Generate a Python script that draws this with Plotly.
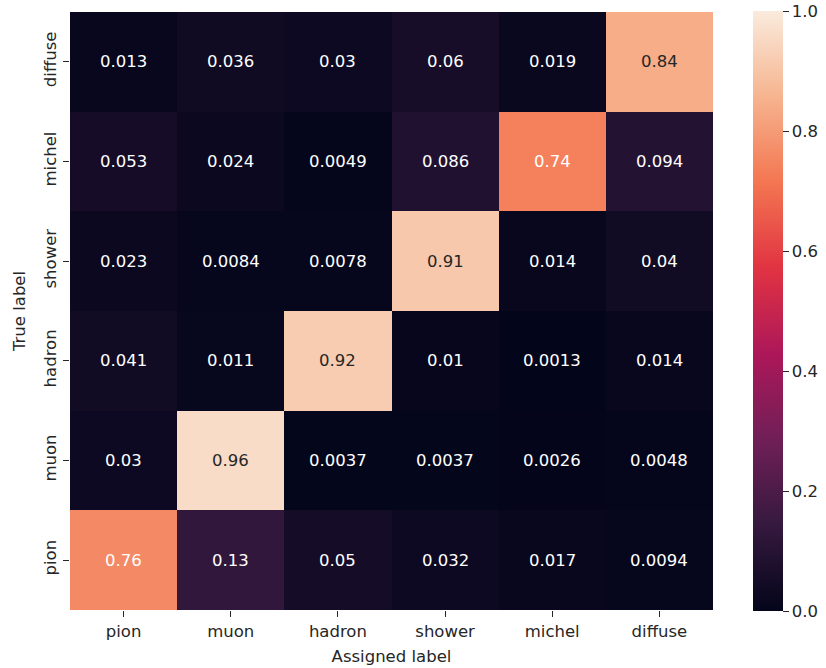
import plotly.graph_objects as go

# Confusion matrix: rows = true label, columns = assigned label
assigned_labels = ["pion", "muon", "hadron", "shower", "michel", "diffuse"]
true_labels = ["pion", "muon", "hadron", "shower", "michel", "diffuse"]

row_pion = [0.76, 0.13, 0.05, 0.032, 0.017, 0.0094]
row_muon = [0.03, 0.96, 0.0037, 0.0037, 0.0026, 0.0048]
row_hadron = [0.041, 0.011, 0.92, 0.01, 0.0013, 0.014]
row_shower = [0.023, 0.0084, 0.0078, 0.91, 0.014, 0.04]
row_michel = [0.053, 0.024, 0.0049, 0.086, 0.74, 0.094]
row_diffuse = [0.013, 0.036, 0.03, 0.06, 0.019, 0.84]

z = [row_pion, row_muon, row_hadron, row_shower, row_michel, row_diffuse]

cbar_ticks = [0.0, 0.2, 0.4, 0.6, 0.8, 1.0]

# "rocket"-style sequential colour map
rocket_stops = [
    (0.0, "#03051A"),
    (1 / 7, "#35193E"),
    (2 / 7, "#701F57"),
    (3 / 7, "#AD1759"),
    (4 / 7, "#E13342"),
    (5 / 7, "#F37651"),
    (6 / 7, "#F6B48F"),
    (1.0, "#FAEBDD"),
]
colorscale = [[p, c] for p, c in rocket_stops]


def hex_rgb(h):
    h = h.lstrip("#")
    return tuple(int(h[i:i + 2], 16) / 255 for i in (0, 2, 4))


def cmap(v):
    for (p0, c0), (p1, c1) in zip(rocket_stops[:-1], rocket_stops[1:]):
        if p0 <= v <= p1:
            t = (v - p0) / (p1 - p0)
            a, b = hex_rgb(c0), hex_rgb(c1)
            return tuple(x + (y - x) * t for x, y in zip(a, b))
    return hex_rgb(rocket_stops[-1][1])


def luminance(rgb):
    lin = [c / 12.92 if c <= 0.03928 else ((c + 0.055) / 1.055) ** 2.4 for c in rgb]
    return 0.2126 * lin[0] + 0.7152 * lin[1] + 0.0722 * lin[2]


FONT = "DejaVu Sans"
FS = 16.5
INK = "#262626"

fig = go.Figure(
    go.Heatmap(
        z=z,
        x=assigned_labels,
        y=true_labels,
        zmin=0,
        zmax=1,
        colorscale=colorscale,
        colorbar=dict(
            thickness=30,
            lenmode="pixels",
            len=600,
            y=-0.002,
            yanchor="bottom",
            ypad=0,
            x=1.0622,
            xanchor="left",
            xpad=0,
            outlinewidth=0,
            tickmode="array",
            # nudge the top tick inside the bar so its label is kept
            tickvals=[min(t, 0.9999) for t in cbar_ticks],
            ticktext=[f"{t:.1f}" for t in cbar_ticks],
            ticks="outside",
            ticklen=6,
            tickwidth=1,
            tickcolor=INK,
            tickfont=dict(family=FONT, size=FS, color=INK),
        ),
        hoverinfo="skip",
    )
)

annotations = []
for i, row in enumerate(z):
    for j, v in enumerate(row):
        color = INK if luminance(cmap(v)) > 0.408 else "white"
        annotations.append(
            dict(
                x=assigned_labels[j],
                y=true_labels[i],
                text=f"{v:.2g}",
                showarrow=False,
                font=dict(family=FONT, size=FS, color=color),
            )
        )

fig.update_layout(
    width=826,
    height=668,
    margin=dict(l=69.5, r=113, t=11.5, b=57.5, autoexpand=False),
    paper_bgcolor="white",
    plot_bgcolor="white",
    annotations=annotations,
    font=dict(family=FONT, size=FS, color=INK),
    xaxis=dict(
        title=dict(text="Assigned label", font=dict(family=FONT, size=FS), standoff=10),
        ticks="outside",
        ticklen=6,
        tickcolor=INK,
        tickfont=dict(family=FONT, size=FS, color=INK),
        showgrid=False,
        zeroline=False,
        showline=False,
    ),
    yaxis=dict(
        title=dict(text="True label", font=dict(family=FONT, size=FS), standoff=11),
        ticks="outside",
        ticklen=6,
        tickcolor=INK,
        tickangle=-90,
        tickfont=dict(family=FONT, size=FS, color=INK),
        showgrid=False,
        zeroline=False,
        showline=False,
    ),
)

fig.write_html("out.html")
